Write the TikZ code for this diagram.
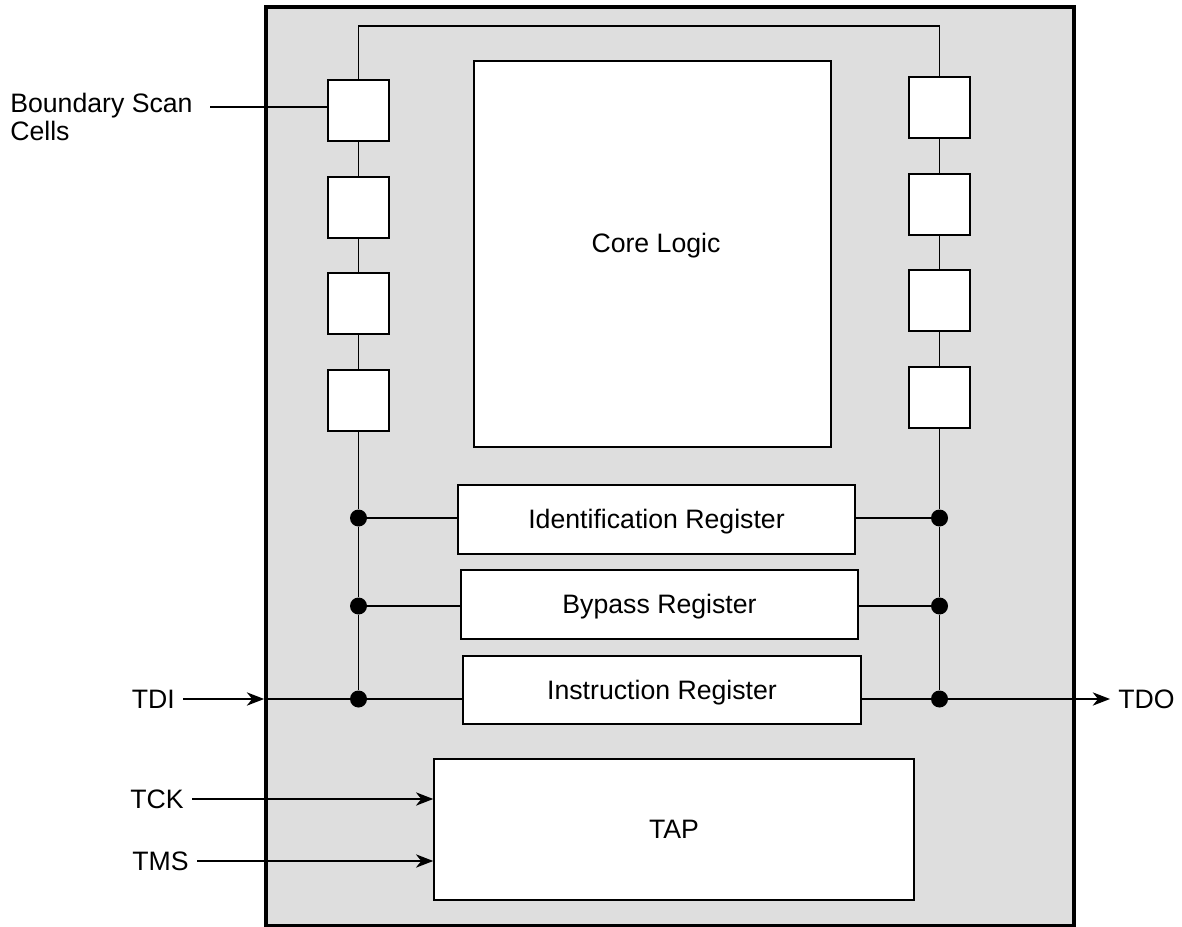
\documentclass[tikz,border=0pt]{standalone}
\usepackage{fontspec}
\setmainfont{Liberation Sans}
\usetikzlibrary{arrows.meta,calc}
\definecolor{chipgray}{HTML}{DEDEDE}
\begin{document}
\begin{tikzpicture}[x=0.75pt,y=-0.75pt,
  font=\fontsize{20}{21}\selectfont,
  wire/.style={line width=1.1pt},
  box/.style={draw, line width=1.1pt, fill=white, inner sep=0pt,
              text height=13.76pt, text depth=0pt},
  cell/.style={box, minimum width=45.75pt, minimum height=45.75pt},
  regbox/.style={box, minimum width=297.75pt, minimum height=51.75pt},
  dot/.style={circle, fill=black, inner sep=0pt, minimum size=12.75pt},
  lbl/.style={inner xsep=6pt, inner ysep=0pt},
  arr/.style={wire, -{Stealth[length=13pt,width=10pt,inset=4pt]}},
]
\useasboundingbox (0,0) rectangle (1182,927);

% chip outline
\node[draw, line width=2.8pt, fill=chipgray, inner sep=0pt,
      minimum width=606pt, minimum height=688.9pt] (chip) at (670,466.3) {};

% core logic
\node[box, minimum width=267.75pt, minimum height=289.5pt] (core) at (652.5,254) {};
\node[lbl, anchor=base] (corelabel) at ($(core.center)+(3.5,-1)$) {Core Logic};

% boundary scan cells
\foreach \i/\y in {1/110.5, 2/207.5, 3/303.5, 4/400.5}
  \node[cell] (lcell\i) at (358.5,\y) {};
\foreach \i/\y in {1/107.5, 2/204.5, 3/300.5, 4/397.5}
  \node[cell] (rcell\i) at (939.5,\y) {};

% data registers and instruction register
\node[regbox] (idreg)  at (656.5,519.5) {Identification Register};
\node[regbox] (bypreg) at (659.5,604.5) {Bypass Register};
\node[regbox, minimum width=298.5pt, minimum height=51pt] (insreg) at (662,690) {Instruction Register};

% TAP controller
\node[box, minimum width=360pt, minimum height=105.75pt] (tap) at (674,829.5) {TAP};

% junctions
\node[dot] (lid)  at (358.5,518) {};
\node[dot] (lbyp) at (358.5,606) {};
\node[dot] (lins) at (358.5,699) {};
\node[dot] (rid)  at (939.5,518) {};
\node[dot] (rbyp) at (939.5,606) {};
\node[dot] (rins) at (939.5,699) {};

% scan chain
\coordinate (topl) at (358.5,26);
\coordinate (topr) at (939.5,26);
\draw[wire] (lcell1.north) -- (topl) -- (topr) -- (rcell1.north);
\foreach \a/\b in {1/2, 2/3, 3/4} {
  \draw[wire] (lcell\a.south) -- (lcell\b.north);
  \draw[wire] (rcell\a.south) -- (rcell\b.north);
}
\draw[wire] (lcell4.south) -- (lid) -- (lbyp) -- (lins);
\draw[wire] (rcell4.south) -- (rid) -- (rbyp) -- (rins);

\draw[wire] (lid)  -- (idreg.west |- lid);
\draw[wire] (lbyp) -- (bypreg.west |- lbyp);
\draw[wire] (lins) -- (insreg.west |- lins);
\draw[wire] (idreg.east |- rid)   -- (rid);
\draw[wire] (bypreg.east |- rbyp) -- (rbyp);
\draw[wire] (insreg.east |- rins) -- (rins);

% pins
\node[lbl, anchor=east] (tdi) at (183,699) {TDI};
\node[lbl, anchor=east] (tck) at (192,799) {TCK};
\node[lbl, anchor=east] (tms) at (197,861) {TMS};
\node[lbl, anchor=west] (tdo) at (1110,699) {TDO};

\draw[arr] (tdi.east) -- (chip.west |- tdi.east);
\draw[wire] (chip.west |- lins) -- (lins);
\draw[arr] (rins) -- (tdo.west);
\draw[arr] (tck.east) -- (tap.west |- tck.east);
\draw[arr] (tms.east) -- (tap.west |- tms.east);

% callout
\node[lbl, align=left, anchor=north west] (bsc) at (2,93) {Boundary Scan\\Cells};
\coordinate (bscl) at (210,107);
\draw[wire] (bscl) -- (lcell1.west |- bscl);
\end{tikzpicture}
\end{document}
